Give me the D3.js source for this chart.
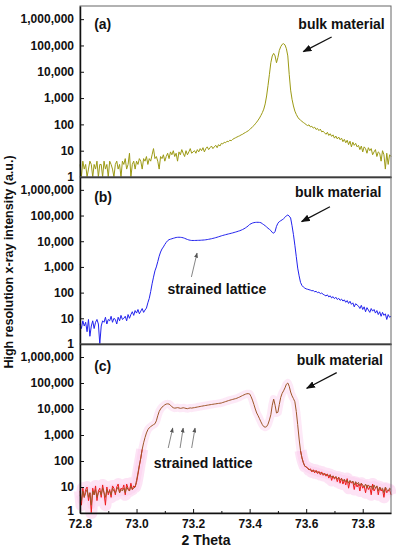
<!DOCTYPE html>
<html>
<head>
<meta charset="utf-8">
<script src="https://cdn.jsdelivr.net/npm/d3@7/dist/d3.min.js"></script>
<style>
  body { margin: 0; background: #fff; }
  svg text { font-family: "Liberation Sans", Arial, sans-serif; font-weight: bold; fill: #111; }
</style>
</head>
<body>
<script>
// scan grid: 2 Theta from 72.8 in steps of 0.005
let thetaStart = 72.8,
    thetaStep = 0.005;

// (a) counts
let countsA = [
  3,1,4,2,3,1,2,4,3,1,3,2,4,1,3,3,1,4,2,3,1,4,3,2,1,3,4,2,3,1,4,3,5,2,3,8,1,3,4,2,4,
  3,5,4,2,5,4,6,3,5,4,7,12,5,6,4,2,6,5,7,4,
  6,8,5,9,7,10,6,8,4,9,7,11,8,6,10,7,9,12,8,9,
  10,8,11,9,12,10,13,9,12,14,11,13,15,12,14,16,13,17,15,19,
  18,21,20,23,22,25,24,27,29,31,33,35,37,40,42,46,49,53,57,63,
  72,80,90,105,122,145,175,220,280,380,
  600,1200,3000,8000,22000,40000,50000,40000,22000,35000,65000,90000,110000,117000,105000,
  75000,40000,8000,2000,900,500,320,240,190,160,145,130,118,108,98,
  90,96,80,85,72,78,64,70,58,66,52,55,
  48,42,50,38,44,35,40,30,36,28,33,26,
  30,22,27,20,25,17,23,14,21,16,19,14,
  16,11,15,9,14,12,8,13,10,12,7,9,
  11,6,9,8,4,10,7,2,8,3,7,6
];

// (b) counts
let countsB = [
  6,4,8,5,7,3,9,2,5,8,4,7,9,6,1,5,8,7,11,6,9,8,12,7,10,9,6,11,8,13,9,10,12,8,14,10,
  14,18,13,20,16,22,15,19,24,17,21,
  25,40,60,110,220,400,700,1000,1600,2600,3800,5000,6000,7500,9000,10500,11500,12000,12500,13000,
  13500,14000,14200,14300,14200,14000,13600,13000,12300,11700,11200,10900,10700,10700,
  10700,10750,10800,10850,10900,11000,11100,11200,11400,11600,11900,12200,12500,12900,13300,13800,14300,14900,15500,16200,
  16800,17400,18000,18600,19200,19800,20400,21100,21900,22700,23600,24600,25600,27000,28500,30500,33000,36000,39500,45000,
  48000,51000,53000,54000,54500,54500,54000,52500,48000,44000,
  40000,36000,32000,29000,26000,22000,20500,24000,38000,50000,
  58000,63000,68000,75000,85000,98000,105000,95000,80000,40000,
  18000,7000,2500,900,450,250,190,165,150,140,
  135,130,125,118,120,108,112,100,104,92,96,86,
  80,74,82,68,75,62,70,58,66,54,60,50,
  56,47,52,42,49,38,46,35,40,28,37,33,
  30,24,32,22,28,18,26,21,17,24,19,22,
  16,20,14,18,12,17,13,15,9,14,11,12
];

// (c) smoothed counts
let countsC = [
  5,3,7,4,6,8,4,6,2,7,5,8,4,6,7,5,9,6,4,8,6,7,5,9,7,6,8,10,6,8,7,9,6,10,8,7,11,8,9,10,18,
  35,70,130,280,500,800,1200,1600,1900,2100,2300,2500,2700,3500,5500,8000,10000,11800,13000,14500,
  15500,15800,15500,14000,12200,11200,10800,11000,11300,11000,10600,10800,11200,10900,10500,10300,10700,11000,10800,11100,
  11300,11600,11900,12200,12500,12800,13100,13400,13700,14000,14300,14600,14900,15200,15500,15800,16100,16400,16700,17000,
  17800,18500,19300,20100,21000,21800,22600,23400,24200,25000,26000,27500,29000,31000,33000,35000,37000,38500,39000,38000,
  30000,22000,15000,10000,7000,5500,4200,3200,2500,2100,
  2000,2100,2600,3800,6000,14000,24000,14000,7000,7500,
  15000,28000,40000,50000,65000,90000,100000,75000,45000,32000,
  25000,19000,8000,2500,700,250,130,85,65,58,
  52,48,45,43,40,42,37,39,34,36,32,33,
  30,31,28,27,29,24,26,22,25,20,23,19,
  21,17,20,16,19,14,18,15,17,12,16,13,
  15,11,14,12,10,13,9,12,10,11,8,12,
  9,11,7,10,8,9,6,10,8,7,9,8
];

// (c) raw counts, low-angle part (from 72.80) and high-angle part (from 73.58)
let rawCLeftStart = 72.8;
let rawCLeft = [
  7,2,9,4,8,10,3,6,1,9,5,11,3,7,9,4,12,6,2,10,5,8,4,11,9,5,10,13,6,9,
  8,12,5,13,9,7,14,8,11,10,15,30,65,130,280
];
let rawCRightStart = 73.58;
let rawCRight = [
  250,135,88,62,60,
  55,45,50,38,46,35,44,33,40,30,38,28,
  34,26,32,22,30,18,27,20,25,16,24,14,
  22,13,19,12,21,9,17,14,16,8,15,10,
  13,7,14,9,11,6,12,8,10,5,13,7,
  9,11,5,10,7,8,4,9,6,7,8,5
];

let xTicks = [72.8, 73.0, 73.2, 73.4, 73.6, 73.8];
let xMinorTicks = [72.9, 73.1, 73.3, 73.5, 73.7];
let yTicks = [1, 10, 100, 1000, 10000, 100000, 1000000];
let panelLetters = ["(a)", "(b)", "(c)"];
let letterCounts = [4.3e5, 3.4e5, 2.9e5];

// annotations, in (2 Theta, counts)
let bulkText = [[73.725, 4.4e5], [73.713, 5.2e5], [73.719, 4.9e5]];
let bulkArrows = [
  [73.690, 2.1e5, 73.590, 5.8e4],
  [73.684, 2.2e5, 73.584, 5.8e4],
  [73.708, 2.5e5, 73.602, 6.3e4]
];
let strainText = [[73.284, 89], [73.236, 54]];
let strainArrowsB = [[73.194, 407, 73.214, 3470]];
let strainArrowsC = [
  [73.112, 316, 73.128, 1860],
  [73.154, 316, 73.165, 1860],
  [73.195, 316, 73.207, 1860]
];

let svgWidth = 396,
    svgHeight = 550,
    plotLeft = 80,
    plotRight = 391,
    panelTops = [6, 177, 344],
    panelBottoms = [177, 344, 513];

let svg = d3.select("body").append("svg")
  .attr("width", svgWidth)
  .attr("height", svgHeight);

let xScale = d3.scaleLinear().domain([72.8, 73.9]).range([plotLeft, plotRight]);

let defs = svg.append("defs");
addMarker("headBlack", "#111", 9, 7);
addMarker("headGray", "#555", 5, 4);

function addMarker(id, color, len, wid) {
  defs.append("marker")
    .attr("id", id)
    .attr("viewBox", "0 0 10 10")
    .attr("refX", 9)
    .attr("refY", 5)
    .attr("markerUnits", "userSpaceOnUse")
    .attr("markerWidth", len)
    .attr("markerHeight", wid)
    .attr("orient", "auto")
    .attr("preserveAspectRatio", "none")
    .append("path")
    .attr("d", "M0,0 L10,5 L0,10 Z")
    .attr("fill", color);
}

function toPoints(counts, start) {
  return counts.map((c, i) => ({ x: start + i * thetaStep, y: c }));
}

function makeY(k) {
  return d3.scaleLog().domain([1, Math.pow(10, 6.5)]).range([panelBottoms[k], panelTops[k]]);
}

function drawSeries(yScale, points, color, width, opacity) {
  let line = d3.line()
    .x(d => xScale(d.x))
    .y(d => yScale(Math.max(d.y, 1)));
  svg.append("path")
    .datum(points)
    .attr("d", line)
    .attr("fill", "none")
    .attr("stroke", color)
    .attr("stroke-width", width)
    .attr("stroke-opacity", opacity || 1)
    .attr("stroke-linejoin", "round");
}

function drawArrow(yScale, a, marker, color, width) {
  svg.append("line")
    .attr("x1", xScale(a[0]))
    .attr("y1", yScale(a[1]))
    .attr("x2", xScale(a[2]))
    .attr("y2", yScale(a[3]))
    .attr("stroke", color)
    .attr("stroke-width", width)
    .attr("marker-end", "url(#" + marker + ")");
}

function drawFrame(k, yScale, withX) {
  svg.append("rect")
    .attr("x", plotLeft)
    .attr("y", panelTops[k])
    .attr("width", plotRight - plotLeft)
    .attr("height", panelBottoms[k] - panelTops[k])
    .attr("fill", "none")
    .attr("stroke", "#666")
    .attr("stroke-width", 1);

  let yAxis = d3.axisLeft(yScale)
    .tickValues(yTicks)
    .tickFormat(d3.format(","))
    .tickSize(-4)
    .tickSizeOuter(0)
    .tickPadding(6);
  let gy = svg.append("g")
    .attr("transform", "translate(" + plotLeft + ",0)")
    .call(yAxis);
  styleAxis(gy);

  let xAxis = d3.axisBottom(xScale)
    .tickValues(withX ? xTicks : [])
    .tickFormat(d3.format(".1f"))
    .tickSize(-4)
    .tickSizeOuter(0)
    .tickPadding(6);
  let gx = svg.append("g")
    .attr("transform", "translate(0," + panelBottoms[k] + ")")
    .call(xAxis);
  styleAxis(gx);

  if (withX) {
    // keep the lowest y label clear of the first x label
    gy.selectAll(".tick text").filter(d => d === 1).attr("dy", "0.1em");
    let gm = svg.append("g")
      .attr("transform", "translate(0," + panelBottoms[k] + ")")
      .call(d3.axisBottom(xScale).tickValues(xMinorTicks).tickFormat("").tickSize(-2).tickSizeOuter(0));
    gm.select(".domain").remove();
    gm.selectAll("line").attr("stroke", "#111");
  }
}

function styleAxis(g) {
  g.attr("font-size", 12)
    .attr("font-family", null);
  g.select(".domain").attr("stroke", "#111").attr("stroke-width", 1.5);
  g.selectAll(".tick line").attr("stroke", "#111");
  g.selectAll(".tick text").attr("fill", "#111");
}

function drawLetter(k, yScale) {
  svg.append("text")
    .attr("x", xScale(72.85))
    .attr("y", yScale(letterCounts[k]))
    .attr("font-size", 14)
    .text(panelLetters[k]);
}

function drawBulk(k, yScale) {
  svg.append("text")
    .attr("x", xScale(bulkText[k][0]))
    .attr("y", yScale(bulkText[k][1]))
    .attr("text-anchor", "middle")
    .attr("font-size", 14)
    .text("bulk material");
  drawArrow(yScale, bulkArrows[k], "headBlack", "#111", 1.3);
}

function drawStrain(yScale, pos, arrows) {
  svg.append("text")
    .attr("x", xScale(pos[0]))
    .attr("y", yScale(pos[1]))
    .attr("text-anchor", "middle")
    .attr("font-size", 14)
    .text("strained lattice");
  arrows.forEach(a => drawArrow(yScale, a, "headGray", "#666", 0.8));
}

// panel (a)
let yA = makeY(0);
drawSeries(yA, toPoints(countsA, thetaStart), "#9c9a14", 1);
drawFrame(0, yA, false);
drawLetter(0, yA);
drawBulk(0, yA);

// panel (b)
let yB = makeY(1);
drawSeries(yB, toPoints(countsB, thetaStart), "#2222ee", 1);
drawFrame(1, yB, false);
drawLetter(1, yB);
drawBulk(1, yB);
drawStrain(yB, strainText[0], strainArrowsB);

// panel (c)
let yC = makeY(2);
drawSeries(yC, toPoints(countsC, thetaStart), "#fbc8ec", 8, 0.4);
drawSeries(yC, toPoints(rawCLeft, rawCLeftStart), "#fbc8ec", 12, 0.5);
drawSeries(yC, toPoints(rawCRight, rawCRightStart), "#fbc8ec", 12, 0.5);
drawSeries(yC, toPoints(rawCLeft, rawCLeftStart), "#ee1c1c", 1);
drawSeries(yC, toPoints(rawCRight, rawCRightStart), "#ee1c1c", 1);
drawSeries(yC, toPoints(countsC, thetaStart), "#9e5628", 1);
drawFrame(2, yC, true);
drawLetter(2, yC);
drawBulk(2, yC);
drawStrain(yC, strainText[1], strainArrowsC);

// axis titles
svg.append("text")
  .attr("transform", "translate(13,262) rotate(-90)")
  .attr("text-anchor", "middle")
  .attr("font-size", 12.5)
  .text("High resolution x-ray intensity (a.u.)");

svg.append("text")
  .attr("x", 206)
  .attr("y", 545)
  .attr("text-anchor", "middle")
  .attr("font-size", 14)
  .text("2 Theta");
</script>
</body>
</html>
